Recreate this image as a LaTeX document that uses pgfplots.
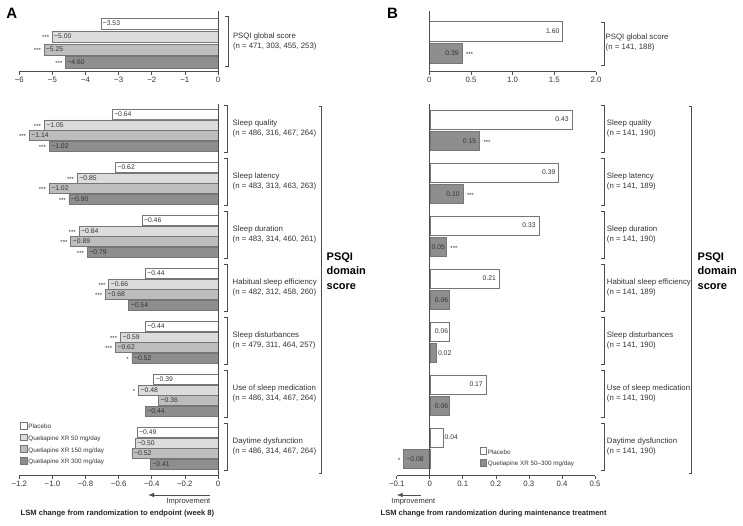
\documentclass[border=0pt]{standalone}
\usepackage{fontspec}
\setmainfont{Liberation Sans}
\usepackage{pgfplots}
\pgfplotsset{compat=1.18}
\usetikzlibrary{arrows.meta}
\definecolor{c50}{HTML}{DCDCDC}
\definecolor{c150}{HTML}{BDBDBD}
\definecolor{c300}{HTML}{8E8E8E}
\definecolor{edge}{HTML}{767676}
\definecolor{axisc}{HTML}{4D4D4D}
\definecolor{txt}{HTML}{333333}
\newcommand{\fs}[2]{\fontsize{#1}{#2}\selectfont}
\pgfplotsset{
  base/.style={
    scale only axis, clip=false,
    axis x line*=bottom, axis y line=none,
    tick align=outside, major tick length=3pt,
    axis line style={draw=axisc, line width=0.8pt},
    every tick/.style={draw=axisc, line width=0.7pt},
    xticklabel style={font=\fs{7.8}{8}, text=txt, inner sep=2pt},
    ytick=\empty,
  },
  bars/.style={xbar, bar shift=0pt, draw=edge, line width=0.5pt,
    legend image code/.code={\draw[##1, line width=0.5pt] (0pt,-1.6pt) rectangle (6.6pt,5pt);}},
  vals/.style={nodes near coords, point meta=explicit symbolic,
    every node near coord/.append style={font=\fs{6.8}{7}, text=txt, inner sep=0pt}},
  lblW/.style={vals, every node near coord/.append style={anchor=west, xshift=#1}},
  lblE/.style={vals, every node near coord/.append style={anchor=east, xshift=#1}},
  helper/.style={draw=none, mark=none, forget plot},
  stars/.style={helper, nodes near coords, point meta=explicit symbolic,
    every node near coord/.append style={font=\fs{6}{6}, text=txt, inner sep=0pt, yshift=-1.2pt}},
  starsE/.style={stars, every node near coord/.append style={anchor=east, xshift=#1}},
  starsW/.style={stars, every node near coord/.append style={anchor=west, xshift=#1}},
}
\begin{document}
\begin{tikzpicture}
\path[use as bounding box] (0pt,0pt) rectangle (743pt,526pt);

% ---------------- Panel A, global score ----------------
\begin{axis}[base, at={(19.3pt,454.3pt)}, anchor=south west, width=198.7pt, height=60.7pt,
  xmin=-6, xmax=0, ymin=-3.72, ymax=0.98,
  xtick={-6,-5,-4,-3,-2,-1,0}, xticklabels={−6,−5,−4,−3,−2,−1,0}]
\addplot[bars, bar width=0.876, fill=white, lblW=1.5pt] coordinates {(-3.53,0)[−3.53]};
\addplot[bars, bar width=0.876, fill=c50, lblW=1.5pt] coordinates {(-5.00,-1)[−5.00]};
\addplot[bars, bar width=0.876, fill=c150, lblW=1.5pt] coordinates {(-5.25,-2)[−5.25]};
\addplot[bars, bar width=0.876, fill=c300, lblW=1.5pt] coordinates {(-4.60,-3)[−4.60]};
\addplot[starsE=-3pt] coordinates {(-5.00,-1)[***] (-5.25,-2)[***] (-4.60,-3)[***]};
\draw[axisc, line width=0.8pt] (axis cs:0,-3.72) -- (axis cs:0,0.98);
\end{axis}

% ---------------- Panel A, domain scores ----------------
\begin{axis}[base, at={(19.3pt,50.3pt)}, anchor=south west, width=198.7pt, height=371.7pt,
  xmin=-1.2, xmax=0, ymin=-34.09, ymax=0.97,
  xtick={-1.2,-1,-0.8,-0.6,-0.4,-0.2,0}, xticklabels={−1.2,−1.0,−0.8,−0.6,−0.4,−0.2,0},
  legend style={at={(0.004,0.145)}, anchor=north west, draw=none, fill=none,
    font=\fs{6.3}{6.5}, text=txt, inner sep=0pt, row sep=2.4pt,
    nodes={inner sep=1pt}},
  legend cell align=left]
\addplot[bars, bar width=0.92, fill=white, lblW=2pt] coordinates {
 (-0.64,0)[−0.64] (-0.62,-5)[−0.62] (-0.46,-10)[−0.46] (-0.44,-15)[−0.44]
 (-0.44,-20)[−0.44] (-0.39,-25)[−0.39] (-0.49,-30)[−0.49]};
\addlegendentry{Placebo}
\addplot[bars, bar width=0.92, fill=c50, lblW=2pt] coordinates {
 (-1.05,-1)[−1.05] (-0.85,-6)[−0.85] (-0.84,-11)[−0.84] (-0.66,-16)[−0.66]
 (-0.59,-21)[−0.59] (-0.48,-26)[−0.48] (-0.50,-31)[−0.50]};
\addlegendentry{Quetiapine XR 50 mg/day}
\addplot[bars, bar width=0.92, fill=c150, lblW=2pt] coordinates {
 (-1.14,-2)[−1.14] (-1.02,-7)[−1.02] (-0.89,-12)[−0.89] (-0.68,-17)[−0.68]
 (-0.62,-22)[−0.62] (-0.36,-27)[−0.36] (-0.52,-32)[−0.52]};
\addlegendentry{Quetiapine XR 150 mg/day}
\addplot[bars, bar width=0.92, fill=c300, lblW=2pt] coordinates {
 (-1.02,-3)[−1.02] (-0.90,-8)[−0.90] (-0.79,-13)[−0.79] (-0.54,-18)[−0.54]
 (-0.52,-23)[−0.52] (-0.44,-28)[−0.44] (-0.41,-33)[−0.41]};
\addlegendentry{Quetiapine XR 300 mg/day}
\addplot[starsE=-3pt] coordinates {
 (-1.05,-1)[***] (-1.14,-2)[***] (-1.02,-3)[***]
 (-0.85,-6)[***] (-1.02,-7)[***] (-0.90,-8)[***]
 (-0.84,-11)[***] (-0.89,-12)[***] (-0.79,-13)[***]
 (-0.66,-16)[***] (-0.68,-17)[***]
 (-0.59,-21)[***] (-0.62,-22)[***] (-0.52,-23)[*]
 (-0.48,-26)[*]};
\draw[axisc, line width=0.8pt] (axis cs:0,-34.09) -- (axis cs:0,0.97);
\end{axis}

% ---------------- Panel B, global score ----------------
\begin{axis}[base, at={(429.3pt,454.3pt)}, anchor=south west, width=166.7pt, height=60.7pt,
  xmin=0, xmax=2, ymin=-1.833, ymax=0.914,
  xtick={0,0.5,1,1.5,2}, xticklabels={0,0.5,1.0,1.5,2.0}]
\addplot[bars, bar width=0.88, fill=white, lblE=-3pt] coordinates {(1.60,0)[1.60]};
\addplot[bars, bar width=0.88, fill=c300, lblE=-3pt] coordinates {(0.39,-1)[0.39]};
\addplot[starsW=4pt] coordinates {(0.39,-1)[***]};
\draw[axisc, line width=0.8pt] (axis cs:0,-1.833) -- (axis cs:0,0.914);
\end{axis}

% ---------------- Panel B, domain scores ----------------
\begin{axis}[base, at={(396.7pt,50.3pt)}, anchor=south west, width=198.3pt, height=371.7pt,
  xmin=-0.1, xmax=0.5, ymin=-34.09, ymax=0.97,
  xtick={-0.1,0,0.1,0.2,0.3,0.4,0.5}, xticklabels={−0.1,0,0.1,0.2,0.3,0.4,0.5},
  legend style={at={(0.418,0.077)}, anchor=north west, draw=none, fill=none,
    font=\fs{6.3}{6.5}, text=txt, inner sep=0pt, row sep=2.4pt,
    nodes={inner sep=1pt}},
  legend cell align=left]
\addplot[bars, bar width=1.84, fill=white] coordinates {
 (0.43,-0.5) (0.39,-5.5) (0.33,-10.5) (0.21,-15.5) (0.06,-20.5) (0.17,-25.5) (0.04,-30.5)};
\addlegendentry{Placebo}
\addplot[bars, bar width=1.84, fill=c300] coordinates {
 (0.15,-2.5) (0.10,-7.5) (0.05,-12.5) (0.06,-17.5) (0.02,-22.5) (0.06,-27.5) (-0.08,-32.5)};
\addlegendentry{Quetiapine XR 50–300 mg/day}
\addplot[helper, lblE=-3pt] coordinates {
 (0.43,-0.5)[0.43] (0.39,-5.5)[0.39] (0.33,-10.5)[0.33] (0.21,-15.5)[0.21]
 (0.17,-25.5)[0.17] (0.15,-2.5)[0.15] (0.10,-7.5)[0.10]};
\addplot[helper, lblE=-1.2pt] coordinates {
 (0.06,-20.5)[0.06] (0.05,-12.5)[0.05] (0.06,-17.5)[0.06] (0.06,-27.5)[0.06]};
\addplot[helper, lblW=1.5pt] coordinates {(0.04,-30.5)[0.04] (0.02,-22.5)[0.02]};
\addplot[helper, lblW=3pt] coordinates {(-0.08,-32.5)[−0.08]};
\addplot[starsW=4pt] coordinates {(0.15,-2.5)[***] (0.10,-7.5)[***] (0.05,-12.5)[***]};
\addplot[starsE=-3pt] coordinates {(-0.08,-32.5)[*]};
\draw[axisc, line width=0.8pt] (axis cs:0,-34.09) -- (axis cs:0,0.97);
\end{axis}

% ---------------- annotations ----------------
\begin{scope}[x=1pt, y=1pt]
\tikzset{br/.style={draw=axisc, line width=0.8pt},
  gl/.style={anchor=west, align=left, font=\fs{7.8}{9.5}, text=txt, inner sep=0pt}}
% panel letters
\node[font=\bfseries\fs{15}{15}, inner sep=0pt] at (11.7,512.7) {A};
\node[font=\bfseries\fs{15}{15}, inner sep=0pt] at (392.5,513) {B};
% global brackets
\draw[br] (225.3,509.3) -- (228.3,509.3) -- (228.3,459.3) -- (225.3,459.3);
\node[gl] at (232.8,484.7) {PSQI global score\\(n = 471, 303, 455, 253)};
\draw[br] (601,503.3) -- (604,503.3) -- (604,461) -- (601,461);
\node[gl] at (605.5,483.5) {PSQI global score\\(n = 141, 188)};
% group brackets
\foreach \g/\nm/\na/\nb in {
  0/Sleep quality/{486, 316, 467, 264}/{141, 190},
  1/Sleep latency/{483, 313, 463, 263}/{141, 189},
  2/Sleep duration/{483, 314, 460, 261}/{141, 190},
  3/Habitual sleep efficiency/{482, 312, 458, 260}/{141, 189},
  4/Sleep disturbances/{479, 311, 464, 257}/{141, 190},
  5/Use of sleep medication/{486, 314, 467, 264}/{141, 190},
  6/Daytime dysfunction/{486, 314, 467, 264}/{141, 190}}{
  \draw[br] (224.3,{421-53*\g}) -- (227.3,{421-53*\g}) -- (227.3,{374-53*\g}) -- (224.3,{374-53*\g});
  \node[gl] at (232.5,{397.3-53*\g}) {\nm\\(n = \na)};
  \draw[br] (601,{421-53*\g}) -- (604,{421-53*\g}) -- (604,{374-53*\g}) -- (601,{374-53*\g});
  \node[gl] at (606.7,{397.3-53*\g}) {\nm\\(n = \nb)};
}
% big brackets
\draw[br] (318.7,420) -- (321.7,420) -- (321.7,53) -- (318.7,53);
\node[anchor=west, align=left, font=\bfseries\fs{11}{14.5}, inner sep=0pt] at (326.5,255) {PSQI\\domain\\score};
\draw[br] (688.7,420) -- (691.7,420) -- (691.7,53) -- (688.7,53);
\node[anchor=west, align=left, font=\bfseries\fs{11}{14.5}, inner sep=0pt] at (697.5,255) {PSQI\\domain\\score};
% improvement arrows
\draw[axisc, line width=0.8pt, -{Latex[length=6pt,width=4.5pt]}] (210,31) -- (148,31);
\node[font=\fs{7.5}{8}, text=txt, anchor=east, inner sep=0pt] at (210.5,24) {Improvement};
\draw[axisc, line width=0.8pt, -{Latex[length=6pt,width=4.5pt]}] (420.7,31) -- (396.7,31);
\node[font=\fs{7.5}{8}, text=txt, inner sep=0pt] at (413.3,24) {Improvement};
% axis titles
\node[anchor=west, font=\bfseries\fs{7.6}{8}, text=black!85, inner sep=0pt] at (20.5,12) {LSM change from randomization to endpoint (week 8)};
\node[anchor=west, font=\bfseries\fs{7.5}{8}, text=black!85, inner sep=0pt] at (380.5,12) {LSM change from randomization during maintenance treatment};
\end{scope}
\end{tikzpicture}
\end{document}
